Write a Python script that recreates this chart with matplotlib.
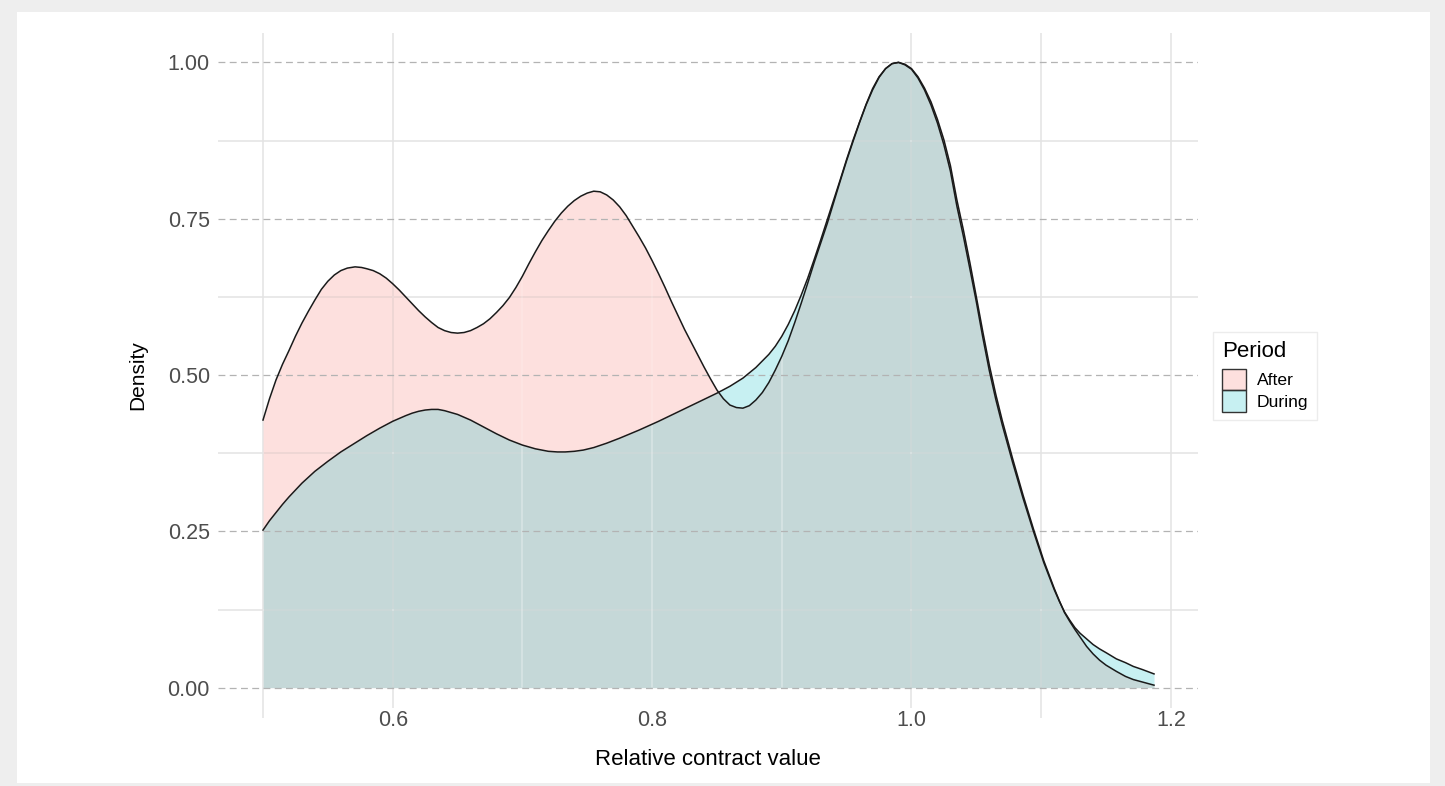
import matplotlib
matplotlib.use('Agg')
import matplotlib.pyplot as plt
from matplotlib.patches import Patch, Rectangle
from matplotlib.colors import to_rgba

plt.rcParams['font.family'] = ['Liberation Sans', 'DejaVu Sans']

# density curve, "After" period
after_x = [0.500, 0.505, 0.510, 0.515, 0.520, 0.525, 0.530, 0.535, 0.540, 0.545,
           0.550, 0.555, 0.560, 0.565, 0.571, 0.576, 0.580, 0.585, 0.590, 0.595,
           0.600, 0.605, 0.610, 0.615, 0.620, 0.625, 0.630, 0.635, 0.640, 0.645,
           0.650, 0.655, 0.660, 0.665, 0.670, 0.675, 0.680, 0.685, 0.690, 0.695,
           0.700, 0.705, 0.710, 0.715, 0.720, 0.725, 0.730, 0.735, 0.740, 0.745,
           0.750, 0.755, 0.760, 0.765, 0.770, 0.775, 0.780, 0.785, 0.790, 0.795,
           0.800, 0.805, 0.810, 0.815, 0.820, 0.825, 0.830, 0.835, 0.840, 0.845,
           0.850, 0.855, 0.860, 0.865, 0.870, 0.875, 0.880, 0.885, 0.890, 0.895,
           0.900, 0.905, 0.910, 0.915, 0.920, 0.925, 0.930, 0.935, 0.940, 0.945,
           0.950, 0.955, 0.960, 0.965, 0.970, 0.975, 0.980, 0.985, 0.990, 0.995,
           1.000, 1.005, 1.010, 1.015, 1.020, 1.025, 1.030, 1.035, 1.040, 1.045,
           1.050, 1.055, 1.060, 1.065, 1.070, 1.078, 1.086, 1.094, 1.102, 1.110,
           1.114, 1.118, 1.122, 1.126, 1.130, 1.135, 1.140, 1.145, 1.150, 1.158,
           1.165, 1.171, 1.178, 1.187]
after_y = [0.428, 0.462, 0.492, 0.517, 0.539, 0.562, 0.583, 0.602, 0.620, 0.637,
           0.650, 0.660, 0.667, 0.671, 0.673, 0.672, 0.670, 0.667, 0.662, 0.655,
           0.646, 0.636, 0.625, 0.614, 0.603, 0.593, 0.584, 0.576, 0.571, 0.568,
           0.567, 0.568, 0.571, 0.576, 0.582, 0.590, 0.600, 0.611, 0.624, 0.640,
           0.658, 0.678, 0.697, 0.715, 0.731, 0.746, 0.759, 0.770, 0.779, 0.786,
           0.791, 0.794, 0.793, 0.788, 0.780, 0.769, 0.755, 0.738, 0.721, 0.703,
           0.683, 0.662, 0.640, 0.617, 0.595, 0.573, 0.553, 0.533, 0.513, 0.494,
           0.476, 0.462, 0.452, 0.448, 0.447, 0.451, 0.460, 0.472, 0.488, 0.508,
           0.530, 0.555, 0.584, 0.615, 0.647, 0.680, 0.711, 0.742, 0.776, 0.810,
           0.843, 0.874, 0.904, 0.932, 0.956, 0.976, 0.990, 0.998, 1.000, 0.997,
           0.990, 0.977, 0.959, 0.937, 0.909, 0.876, 0.835, 0.780, 0.732, 0.680,
           0.625, 0.569, 0.516, 0.469, 0.427, 0.366, 0.308, 0.254, 0.203, 0.159,
           0.139, 0.120, 0.106, 0.093, 0.081, 0.066, 0.054, 0.044, 0.036, 0.026,
           0.018, 0.013, 0.009, 0.004]

# "During" period
during_x = [0.500, 0.505, 0.510, 0.515, 0.520, 0.530, 0.540, 0.550, 0.560, 0.570,
            0.580, 0.590, 0.600, 0.610, 0.615, 0.620, 0.625, 0.630, 0.635, 0.640,
            0.645, 0.650, 0.660, 0.670, 0.680, 0.690, 0.700, 0.710, 0.720, 0.727,
            0.733, 0.740, 0.747, 0.755, 0.765, 0.775, 0.790, 0.805, 0.818, 0.830,
            0.840, 0.850, 0.860, 0.870, 0.880, 0.890, 0.895, 0.900, 0.905, 0.910,
            0.915, 0.920, 0.925, 0.930, 0.935, 0.940, 0.945, 0.950, 0.955, 0.960,
            0.965, 0.970, 0.975, 0.980, 0.985, 0.990, 0.995, 1.000, 1.005, 1.010,
            1.015, 1.020, 1.025, 1.030, 1.035, 1.040, 1.045, 1.050, 1.055, 1.060,
            1.065, 1.070, 1.078, 1.086, 1.094, 1.102, 1.110, 1.114, 1.118, 1.122,
            1.126, 1.130, 1.135, 1.140, 1.145, 1.150, 1.158, 1.165, 1.171, 1.178,
            1.187]
during_y = [0.252, 0.267, 0.280, 0.293, 0.305, 0.327, 0.346, 0.362, 0.377, 0.390,
            0.403, 0.415, 0.426, 0.435, 0.439, 0.442, 0.444, 0.445, 0.445, 0.443,
            0.440, 0.437, 0.428, 0.417, 0.406, 0.396, 0.388, 0.382, 0.378, 0.377,
            0.377, 0.378, 0.380, 0.384, 0.391, 0.399, 0.412, 0.426, 0.439, 0.451,
            0.461, 0.471, 0.482, 0.495, 0.512, 0.533, 0.546, 0.562, 0.581, 0.603,
            0.628, 0.655, 0.685, 0.716, 0.748, 0.780, 0.812, 0.845, 0.876, 0.905,
            0.933, 0.958, 0.977, 0.990, 0.998, 1.000, 0.996, 0.989, 0.975, 0.956,
            0.932, 0.903, 0.868, 0.826, 0.770, 0.722, 0.670, 0.617, 0.560, 0.507,
            0.461, 0.420, 0.360, 0.303, 0.250, 0.200, 0.157, 0.138, 0.121, 0.108,
            0.096, 0.087, 0.078, 0.069, 0.062, 0.056, 0.046, 0.040, 0.034, 0.029,
            0.022]

periods = ['After', 'During']
colors = ['#F8766D', '#00BFC4']
x_ticks = [0.6, 0.8, 1.0, 1.2]
x_labels = ['0.6', '0.8', '1.0', '1.2']
y_ticks = [0.0, 0.25, 0.5, 0.75, 1.0]
y_labels = ['0.00', '0.25', '0.50', '0.75', '1.00']

W, H = 1445, 786
fig = plt.figure(figsize=(W / 100, H / 100), dpi=100)
fig.patch.set_facecolor('#eeeeee')
fig.add_artist(Rectangle((17 / W, 1 - 783 / H), (1430 - 17) / W, (783 - 12) / H,
                         transform=fig.transFigure, facecolor='white',
                         edgecolor='none', zorder=-5))

ax = fig.add_axes([218 / W, 1 - 718 / H, 980 / W, 685 / H])
ax.set_facecolor('none')
ax.set_xlim(0.4653, 1.2209)
ax.set_ylim(-0.0485, 1.047)
for s in ax.spines.values():
    s.set_visible(False)

grid_c = '#e3e3e3'
# solid grid (some verticals only show through the fills in the original)
for v in [0.5, 0.6, 1.0, 1.1, 1.2]:
    ax.axvline(v, color=grid_c, lw=1.1, zorder=0.5)
minor_h = [0.125, 0.375, 0.625, 0.875]
for h in minor_h:
    ax.axhline(h, color=grid_c, lw=1.1, zorder=0.5)

fills = []
for xs, ys, c, z in [(after_x, after_y, colors[0], 1.0), (during_x, during_y, colors[1], 1.1)]:
    f = ax.fill_between(xs, ys, 0, color=c, alpha=0.22, lw=0, zorder=z)
    fills.append(f)

# lighter grid lines seen through the filled areas
all_v = [0.5, 0.6, 0.7, 0.8, 0.9, 1.0, 1.1, 1.2]
for f in fills:
    path = f.get_paths()[0]
    vl = ax.vlines(all_v, -0.1, 1.1, color='white', alpha=0.15, lw=1.6, zorder=1.5)
    vl.set_clip_path(path, ax.transData)
    hl = ax.hlines(minor_h, 0.4, 1.3, color='white', alpha=0.15, lw=1.6, zorder=1.5)
    hl.set_clip_path(path, ax.transData)

for h in y_ticks:
    ax.axhline(h, color='#b3b3b3', lw=0.9, ls=(0, (5.5, 3.5)), zorder=2)

ax.plot(after_x, after_y, color='#1a1a1a', lw=1.1, zorder=3)
ax.plot(during_x, during_y, color='#1a1a1a', lw=1.1, zorder=3.1)

ax.set_xticks(x_ticks)
ax.set_xticklabels(x_labels)
ax.set_yticks(y_ticks)
ax.set_yticklabels(y_labels)
ax.tick_params(axis='both', length=0, labelsize=15.5, labelcolor='#4d4d4d')
ax.tick_params(axis='x', pad=-5.8)
ax.tick_params(axis='y', pad=5.8)
for t in ax.get_xticklabels():
    t.set_bbox(dict(facecolor='white', edgecolor='none', pad=1.5))

ax.set_xlabel('Relative contract value', fontsize=16, color='black')
ax.xaxis.set_label_coords(0.5, -0.0453)
ax.set_ylabel('Density', fontsize=15, color='black')
ax.yaxis.set_label_coords(-0.0724, 0.5)

handles = [Patch(facecolor=to_rgba(c, 0.22), edgecolor='#333333', lw=1.0) for c in colors]
leg = ax.legend(handles, periods, title='Period', loc='upper left',
                bbox_to_anchor=(1213 / W, 1 - 332 / H), bbox_transform=fig.transFigure,
                fontsize=12.6, title_fontsize=16, frameon=True, fancybox=False,
                edgecolor='#ececec', framealpha=1, borderpad=0.5, handlelength=1.37,
                handleheight=1.51, handletextpad=0.63, labelspacing=0.0,
                alignment='left', borderaxespad=0)
leg.get_frame().set_linewidth(1.0)
leg._legend_box.sep = 5  # a little room under the title

fig.savefig('out.png', dpi=100, facecolor=fig.get_facecolor())
